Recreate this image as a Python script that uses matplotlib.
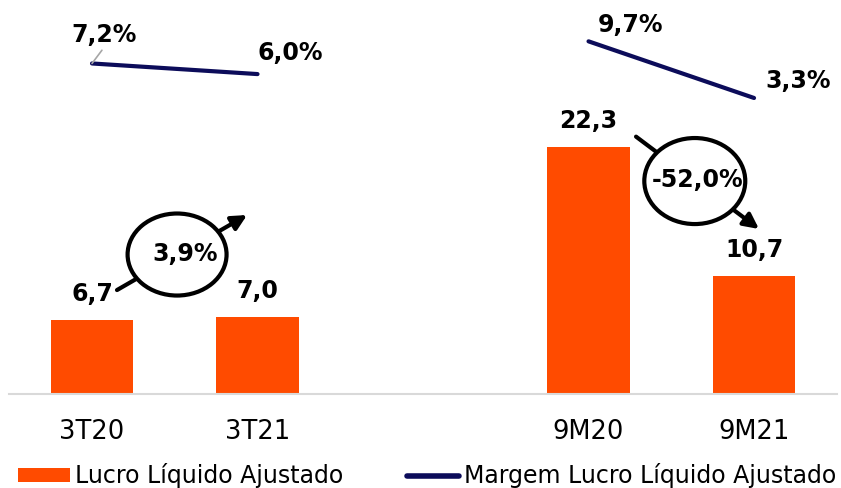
import numpy as np
import matplotlib
matplotlib.use("Agg")
from matplotlib import pyplot as plt
from matplotlib.patches import Ellipse, Patch
from matplotlib.lines import Line2D

# data
categorias = ['3T20', '3T21', '', '9M20', '9M21']
lucro = [6.7, 7.0, np.nan, 22.3, 10.7]
margem = [7.2, 6.0, np.nan, 9.7, 3.3]
lucro_txt = ['6,7', '7,0', '', '22,3', '10,7']
margem_txt = ['7,2%', '6,0%', '', '9,7%', '3,3%']
variacao = ['3,9%', '-52,0%']

laranja = '#FF4B00'
azul = '#0C0C5A'

plt.rcParams['font.family'] = 'DejaVu Sans'

fig = plt.figure(figsize=(8.41, 4.88), dpi=100)
ax = fig.add_axes([0.011, 0.1916, 0.984, 0.8084])
ax2 = ax.twinx()

x = np.arange(len(categorias))
ax.bar(x, lucro, width=0.5, color=laranja, zorder=2)
ax.set_xlim(-0.5, 4.5)
ax.set_ylim(0, 35.54)
ax2.set_ylim(-30.2, 14.37)

# linha de margem (quebrada entre 3T21 e 9M20)
ax2.plot(x, margem, color=azul, lw=3, solid_capstyle='round', zorder=3)

for s in ['top', 'right', 'left']:
    ax.spines[s].set_visible(False)
    ax2.spines[s].set_visible(False)
ax2.spines['bottom'].set_visible(False)
ax.spines['bottom'].set_color('#d9d9d9')
ax.spines['bottom'].set_linewidth(1.5)
ax.set_yticks([])
ax2.set_yticks([])
ax.set_xticks(x)
ax.set_xticklabels(categorias, fontsize=18.5)
ax.tick_params(axis='x', length=0, pad=18)

# rótulos das barras
for i in range(len(x)):
    if lucro_txt[i]:
        ax.annotate(lucro_txt[i], (x[i], lucro[i]), xytext=(0, 26), textcoords='offset pixels',
                    ha='center', va='center', fontsize=17, fontweight='bold')

# rótulos da margem
desloc = [(12, 28), (33, 21), None, (42, 16), (44, 17)]
for i in range(len(x)):
    if margem_txt[i]:
        kw = {}
        if i == 0:
            kw['arrowprops'] = dict(arrowstyle='-', color='#a6a6a6', lw=1.2, shrinkA=0, shrinkB=0,
                                    relpos=(0.5, 0))
        ax2.annotate(margem_txt[i], (x[i], margem[i]), xytext=desloc[i], textcoords='offset pixels',
                     ha='center', va='center', fontsize=17, fontweight='bold', zorder=4, **kw)

# setas e elipses de variação
setas = [((0.151, 9.41), (0.937, 16.17)), ((3.287, 23.23), (4.030, 14.91))]
elipses = [((0.514, 12.61), 0.598, 7.39), ((3.642, 19.23), 0.610, 7.75)]
textos = [(0.562, 12.66), (3.656, 19.32)]
for k in range(2):
    ax.annotate('', xy=setas[k][1], xytext=setas[k][0],
                arrowprops=dict(arrowstyle='-|>,head_length=0.9,head_width=0.45', color='black',
                                lw=3, shrinkA=0, shrinkB=0), zorder=5)
    c, w, h = elipses[k]
    ax.add_patch(Ellipse(c, w, h, facecolor='white', edgecolor='black', lw=3, zorder=6))
    ax.text(textos[k][0], textos[k][1], variacao[k], ha='center', va='center', fontsize=17,
            fontweight='bold', zorder=7)

handles = [Patch(facecolor=laranja), Line2D([0], [0], color=azul, lw=4, solid_capstyle='round')]
fig.legend(handles, ['Lucro Líquido Ajustado', 'Margem Lucro Líquido Ajustado'],
           loc='center', bbox_to_anchor=(0.508, 0.025), ncol=2, frameon=False,
           prop={'size': 17}, handlelength=2.2, handleheight=0.55,
           handletextpad=0.2, columnspacing=2.7)

fig.savefig('out.png', dpi=100)
